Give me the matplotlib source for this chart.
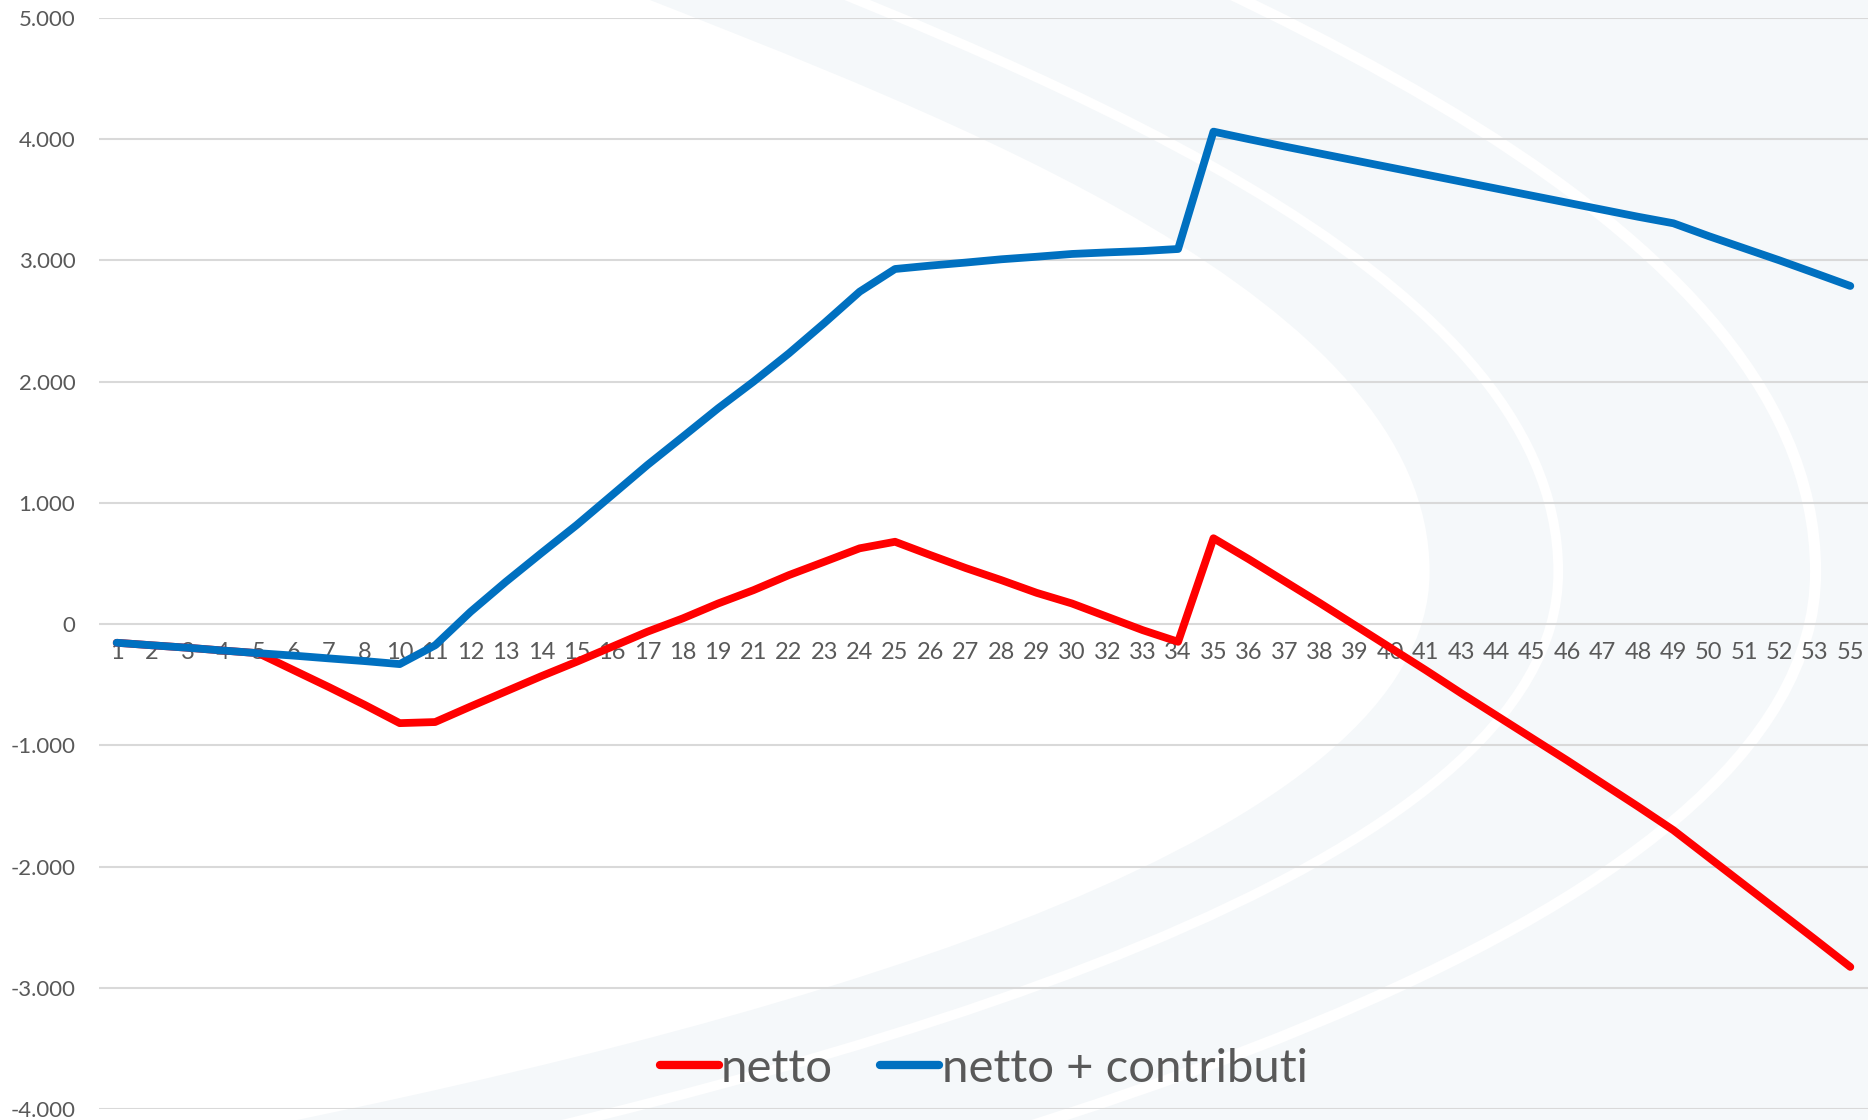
import matplotlib.pyplot as plt
from matplotlib.path import Path
from matplotlib.patches import PathPatch
from matplotlib.ticker import FuncFormatter

# categorie (età) sull'asse x
anni = [1, 2, 3, 4, 5, 6, 7, 8, 10, 11, 12, 13, 14, 15, 16, 17, 18, 19,
        21, 22, 23, 24, 25, 26, 27, 28, 29, 30, 32, 33, 34, 35, 36, 37, 38,
        39, 40, 41, 43, 44, 45, 46, 47, 48, 49, 50, 51, 52, 53, 55]

netto = [-154, -175, -195, -218, -240, -380, -520, -665, -817, -808,
         -680, -555, -430, -311, -187, -63, 47, 170, 280, 404,
         514, 625, 679, 569, 462, 363, 258, 170, 60, -50,
         -146, 708, 535, 355, 175, -10, -195, -380, -570, -755,
         -940, -1125, -1315, -1505, -1700, -1925, -2150, -2375, -2600, -2828]

netto_contributi = [-154, -175, -195, -218, -240, -260, -283, -305, -330, -175,
                    101, 349, 585, 817, 1064, 1312, 1545, 1780, 2000, 2233,
                    2483, 2742, 2929, 2957, 2982, 3009, 3030, 3053, 3066, 3077,
                    3094, 4062, 4000, 3940, 3882, 3824, 3766, 3708, 3650, 3592,
                    3534, 3476, 3418, 3360, 3306, 3200, 3100, 3000, 2895, 2789]

testo = '#595959'
plt.rcParams['font.family'] = ['Lato', 'DejaVu Sans']

fig = plt.figure(figsize=(18.68, 11.2), dpi=100)

# sfondo: filigrana chiara a forma di arco
bg = fig.add_axes([0, 0, 1, 1], zorder=0)
bg.set_xlim(0, 1568)
bg.set_ylim(940, 0)
bg.axis('off')
bg.add_patch(plt.Rectangle((0, 0), 1568, 940, color='#f5f8fa', lw=0))


def arco(s, cx=300, cy=480):
    pts = [(520, -10), (800, 100), (1200, 250), (1200, 480),
           (1200, 700), (700, 850), (200, 950)]
    return [(cx + s * (px - cx), cy + s * (py - cy)) for px, py in pts]


codici = [Path.MOVETO] + [Path.CURVE4] * 6
interno = arco(1.0) + [(-10, 950), (-10, -10), (520, -10)]
bg.add_patch(PathPatch(Path(interno, codici + [Path.LINETO] * 2 + [Path.CLOSEPOLY]),
                       facecolor='white', lw=0))
for s, lw in [(1.12, 7), (1.36, 8)]:
    bg.add_patch(PathPatch(Path(arco(s), codici), facecolor='none', edgecolor='white', lw=lw))

ax = fig.add_axes([0.053, 0.0098, 0.947, 0.9742], zorder=1)
ax.patch.set_alpha(0)

x = list(range(len(anni)))
ax.plot(x, netto, color='#ff0000', lw=5.6, solid_capstyle='round',
        solid_joinstyle='round', label='netto', zorder=3)
ax.plot(x, netto_contributi, color='#0070c0', lw=5.6, solid_capstyle='round',
        solid_joinstyle='round', label='netto + contributi', zorder=4)

ax.set_xlim(-0.5, len(anni) - 0.5)
ax.set_ylim(-4000, 5000)
ax.set_yticks(range(-4000, 5001, 1000))
ax.yaxis.set_major_formatter(FuncFormatter(lambda v, p: f'{int(v):,}'.replace(',', '.')))
ax.grid(axis='y', color='#d9d9d9', lw=1.5)
ax.set_axisbelow(True)

ax.set_xticks(x)
ax.set_xticklabels([str(a) for a in anni])
ax.spines['bottom'].set_position(('data', 0))
for s in ax.spines.values():
    s.set_visible(False)
ax.tick_params(axis='x', length=0, pad=13, labelsize=17, labelcolor=testo)
ax.tick_params(axis='y', length=0, pad=17, labelsize=16, labelcolor=testo)

leg = ax.legend(loc='center', bbox_to_anchor=(0.5, 0.037), ncol=2, frameon=False,
                fontsize=34, labelcolor=testo, handlelength=1.25, handletextpad=0.05,
                columnspacing=1.0)
for h in leg.legend_handles:
    h.set_linewidth(6)

fig.savefig('out.png', dpi=100)
